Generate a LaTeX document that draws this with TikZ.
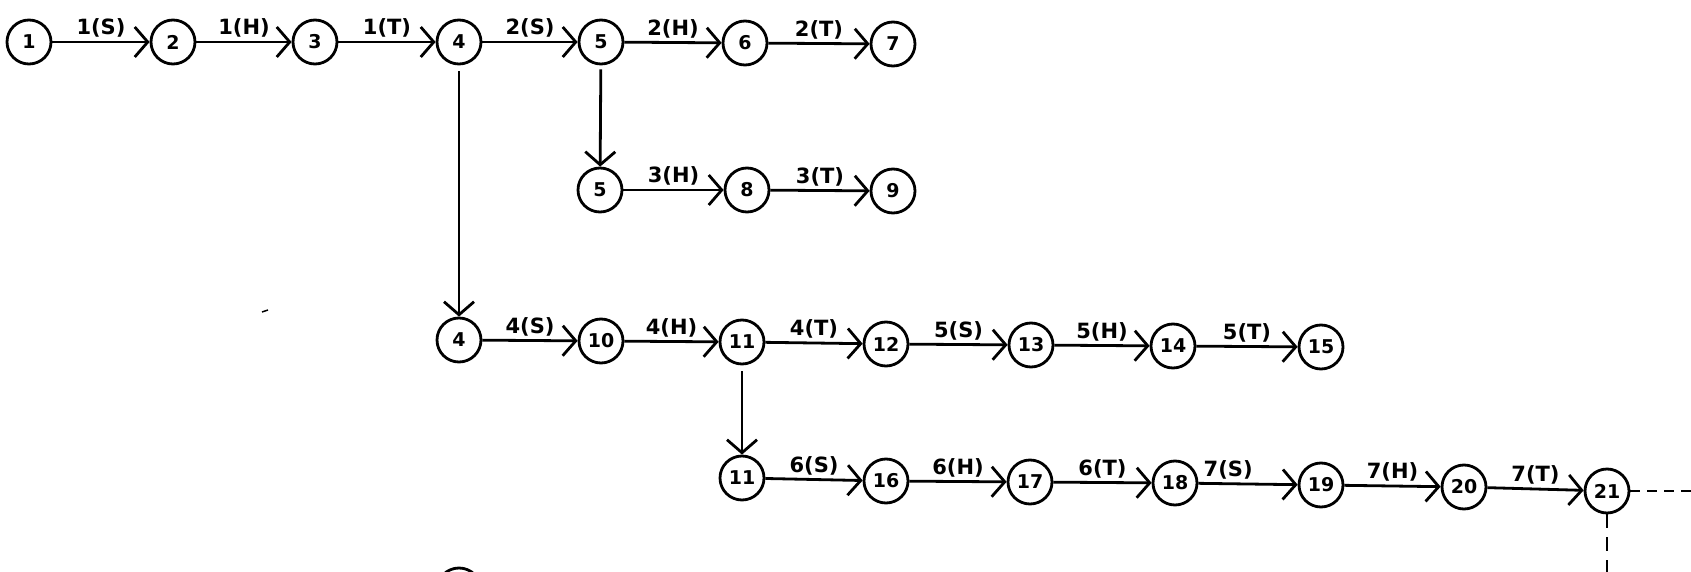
\documentclass[tikz,border=0pt]{standalone}
\usepackage{fontspec}
\setmainfont{DejaVu Sans}
\usetikzlibrary{arrows.meta}
\begin{document}
\begin{tikzpicture}[x=1pt,y=-1pt,
  ev/.style={circle,draw,line width=2.8pt,minimum size=44pt,inner sep=0pt,font=\fontsize{19}{19}\selectfont\bfseries},
  act/.style={line width=2.8pt,-{Straight Barb[length=13pt,width=30pt,line width=2.8pt]}},
  lab/.style={font=\fontsize{21}{21}\selectfont\bfseries,above,inner sep=3pt},
  dsh/.style={line width=2.8pt,dash pattern=on 10pt off 7pt}]
\useasboundingbox (0,0) rectangle (1691,572);
% row 1
\node[ev] (a1) at (29,42) {1};
\node[ev] (a2) at (173,42) {2};
\node[ev] (a3) at (315,42) {3};
\node[ev] (a4) at (459,42) {4};
\node[ev] (a5) at (601,42) {5};
\node[ev] (a6) at (745,43) {6};
\node[ev] (a7) at (893,44) {7};
% row 2
\node[ev] (b5) at (600,190) {5};
\node[ev] (b8) at (747,190) {8};
\node[ev] (b9) at (893,191) {9};
% row 3
\node[ev] (c4) at (459,340) {4};
\node[ev] (c10) at (601,341) {10};
\node[ev] (c11) at (742,342) {11};
\node[ev] (c12) at (886,344) {12};
\node[ev] (c13) at (1031,345) {13};
\node[ev] (c14) at (1173,346) {14};
\node[ev] (c15) at (1321,347) {15};
% row 4
\node[ev] (d11) at (742,478) {11};
\node[ev] (d16) at (886,481) {16};
\node[ev] (d17) at (1030,482) {17};
\node[ev] (d18) at (1175,483) {18};
\node[ev] (d19) at (1321,485) {19};
\node[ev] (d20) at (1464,487) {20};
\node[ev] (d21) at (1607,491) {21};
% partial node at bottom
\node[ev] (e4) at (459,590) {};
% arrows row 1
\draw[act] (a1) -- node[lab]{1(S)} (a2);
\draw[act] (a2) -- node[lab]{1(H)} (a3);
\draw[act] (a3) -- node[lab]{1(T)} (a4);
\draw[act] (a4) -- node[lab]{2(S)} (a5);
\draw[act] (a5) -- node[lab]{2(H)} (a6);
\draw[act] (a6) -- node[lab]{2(T)} (a7);
% row 2
\draw[act] (b5) -- node[lab]{3(H)} (b8);
\draw[act] (b8) -- node[lab]{3(T)} (b9);
% row 3
\draw[act] (c4) -- node[lab]{4(S)} (c10);
\draw[act] (c10) -- node[lab]{4(H)} (c11);
\draw[act] (c11) -- node[lab]{4(T)} (c12);
\draw[act] (c12) -- node[lab]{5(S)} (c13);
\draw[act] (c13) -- node[lab]{5(H)} (c14);
\draw[act] (c14) -- node[lab]{5(T)} (c15);
% row 4
\draw[act] (d11) -- node[lab]{6(S)} (d16);
\draw[act] (d16) -- node[lab]{6(H)} (d17);
\draw[act] (d17) -- node[lab]{6(T)} (d18);
\draw[act] (d18) -- node[lab,pos=0.3]{7(S)} (d19);
\draw[act] (d19) -- node[lab]{7(H)} (d20);
\draw[act] (d20) -- node[lab]{7(T)} (d21);
% vertical arrows
\draw[act,shorten <=6pt] (a4) -- (c4);
\draw[act,shorten <=4pt] (a5) -- (b5);
\draw[act,shorten <=6pt] (c11) -- (d11);
% dashed continuations
\coordinate (eR) at (1691,491);
\coordinate (eD) at (1607,572);
\draw[dsh] (d21) -- (eR);
\draw[dsh,dash pattern=on 14pt off 9pt] (d21) -- (eD);
% stray mark
\draw[line width=1.5pt] (262,312) -- (268,310);
\end{tikzpicture}
\end{document}
